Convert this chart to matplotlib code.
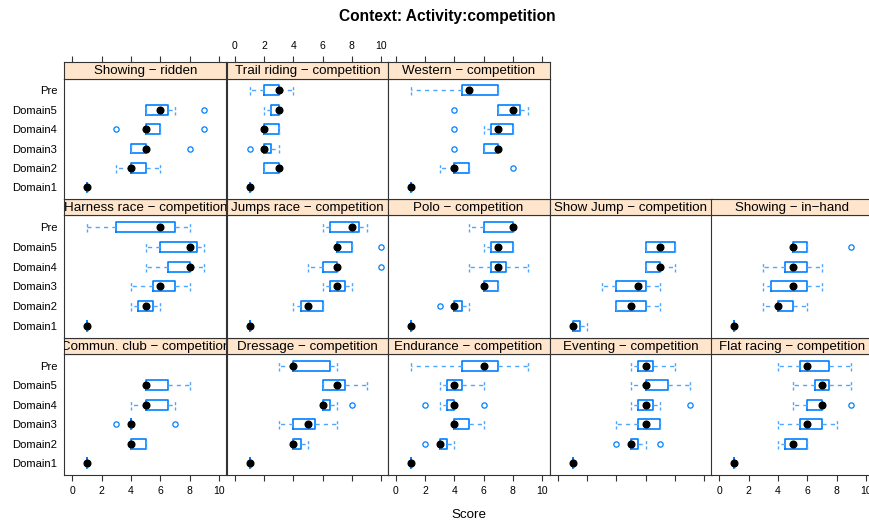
import matplotlib
matplotlib.use('Agg')
import matplotlib.pyplot as plt

plt.rcParams['font.family'] = ['Liberation Sans', 'DejaVu Sans']

# lattice packet order: bottom row first, left to right
panels = ['Commun. club \u2212 competition', 'Dressage \u2212 competition',
          'Endurance \u2212 competition', 'Eventing \u2212 competition',
          'Flat racing \u2212 competition', 'Harness race \u2212 competition',
          'Jumps race \u2212 competition', 'Polo \u2212 competition',
          'Show Jump \u2212 competition', 'Showing \u2212 in\u2212hand',
          'Showing \u2212 ridden', 'Trail riding \u2212 competition',
          'Western \u2212 competition']
levels = ['Domain1', 'Domain2', 'Domain3', 'Domain4', 'Domain5', 'Pre']

N = None
# per panel, per level (Domain1 .. Pre)
whis_lo = [
    [1, 4, 4, 4, 5, N],
    [1, 4, 3, 6, 6, 3],
    [1, 3, 4, 3, 3, 1],
    [1, 5, 4, 5, 5, 5],
    [1, 4, 4, 5, 5, 4],
    [1, 4, 4, 5, 5, 1],
    [1, 4, 6, 5, 7, 6],
    [1, 4, 6, 5, 6, 5],
    [1, 4, 3, 6, 6, N],
    [1, 3, 3, 3, 5, N],
    [1, 3, 4, 5, 5, N],
    [1, 2, 2, 2, 2, 1],
    [1, 3, 6, 6, 7, 1],
]
box_q1 = [
    [1, 4, 4, 5, 5, N],
    [1, 4, 4, 6, 6, 4],
    [1, 3, 4, 3.5, 3.5, 4.5],
    [1, 5, 5.5, 5.5, 6, 5.5],
    [1, 4.5, 5.5, 6, 6.5, 5.5],
    [1, 4.5, 5.5, 6.5, 6, 3],
    [1, 4.5, 6.5, 6, 7, 6.5],
    [1, 4, 6, 6.5, 6.5, 6],
    [1, 4, 4, 6, 6, N],
    [1, 4, 3.5, 4.5, 5, N],
    [1, 4, 4, 5, 5, N],
    [1, 2, 2, 2, 2.5, 2],
    [1, 4, 6, 6.5, 7, 4.5],
]
box_med = [
    [1, 4, 4, 5, 5, N],
    [1, 4, 5, 6, 7, 4],
    [1, 3, 4, 4, 4, 6],
    [1, 5, 6, 6, 6, 6],
    [1, 5, 6, 7, 7, 6],
    [1, 5, 6, 8, 8, 6],
    [1, 5, 7, 7, 7, 8],
    [1, 4, 6, 7, 7, 8],
    [1, 5, 5.5, 7, 7, N],
    [1, 4, 5, 5, 5, N],
    [1, 4, 5, 5, 6, N],
    [1, 3, 2, 2, 3, 3],
    [1, 4, 7, 7, 8, 5],
]
box_q3 = [
    [1, 5, 4, 6.5, 6.5, N],
    [1, 4.5, 5.5, 6.5, 7.5, 6.5],
    [1, 3.5, 5, 4, 4.5, 7],
    [1, 5.5, 7, 6.5, 7.5, 6.5],
    [1, 6, 7, 7, 7.5, 7.5],
    [1, 5.5, 7, 8, 8.5, 7],
    [1, 6, 7.5, 7, 8, 8.5],
    [1, 4.5, 7, 7.5, 8, 8],
    [1.5, 6, 6, 7, 8, N],
    [1, 5, 6, 6, 6, N],
    [1, 5, 5, 6, 6.5, N],
    [1, 3, 2.5, 3, 3, 3],
    [1, 5, 7, 8, 8.5, 7],
]
whis_hi = [
    [1, 5, 4, 7, 8, N],
    [1, 5, 7, 7, 9, 7],
    [1, 4, 6, 4, 6, 9],
    [1, 6, 7, 7, 9, 8],
    [1, 6, 8, 7, 9, 9],
    [1, 6, 8, 9, 9, 8],
    [1, 6, 8, 7, 8, 9],
    [1, 5, 7, 9, 8, 8],
    [2, 7, 7, 8, 8, N],
    [1, 6, 7, 7, 6, N],
    [1, 6, 5, 6, 7, N],
    [1, 3, 3, 3, 3, 4],
    [1, 5, 7, 8, 9, 7],
]
outliers = [
    [[], [], [3, 7], [], [], []],
    [[], [], [], [8], [], []],
    [[], [2], [], [2, 6], [], []],
    [[], [4, 7], [], [9], [], []],
    [[], [], [], [9], [], []],
    [[], [], [], [], [], []],
    [[], [], [], [10], [10], []],
    [[], [3], [], [], [], []],
    [[], [], [], [], [], []],
    [[], [], [], [], [9], []],
    [[], [], [8], [3, 9], [9], []],
    [[], [], [1], [], [], []],
    [[], [8], [4], [4], [4], []],
]
xticks = [0, 2, 4, 6, 8, 10]

W, H = 870, 522
blue = '#0080ff'
whisk = '#4da6ff'
edge = '#333333'
col_left = [64.3, 226.7, 387.7, 549.7, 711.3]
col_w = 161.8
row_top = [62.3, 199.0, 337.7]
strip_h = 16.4
row_bot = [199.0, 337.7, 475.0]


def rect(x0, y0, x1, y1):
    return [x0 / W, 1 - y1 / H, (x1 - x0) / W, (y1 - y0) / H]


fig = plt.figure(figsize=(W / 100, H / 100), dpi=100)

for k, name in enumerate(panels):
    row = 2 - k // 5
    col = k % 5
    x0 = col_left[col]
    x1 = x0 + col_w
    ax = fig.add_axes(rect(x0, row_top[row] + strip_h, x1, row_bot[row]))
    sax = fig.add_axes(rect(x0, row_top[row], x1, row_top[row] + strip_h))

    stats = []
    pos = []
    meds = []
    for j in range(len(levels)):
        if box_med[k][j] is None:
            continue
        stats.append(dict(med=box_med[k][j], q1=box_q1[k][j], q3=box_q3[k][j],
                          whislo=whis_lo[k][j], whishi=whis_hi[k][j],
                          fliers=outliers[k][j]))
        pos.append(j + 1)
        meds.append(box_med[k][j])
    ax.bxp(stats, positions=pos, widths=0.5, capwidths=0.5,
           orientation='horizontal', manage_ticks=False,
           boxprops=dict(color=blue, linewidth=1.2),
           whiskerprops=dict(color=whisk, linewidth=1.0, linestyle=(0, (3, 3))),
           capprops=dict(color=whisk, linewidth=1.0, linestyle=(0, (2.2, 1.6))),
           medianprops=dict(linewidth=0),
           flierprops=dict(marker='o', markerfacecolor='none', markeredgecolor=blue,
                           markersize=3.8, markeredgewidth=0.9))
    ax.plot(meds, pos, 'o', color='black', markersize=4.8, zorder=5)

    ax.set_xlim(-0.56, 10.5)
    ax.set_ylim(0.4, 6.6)
    ax.set_yticks(range(1, len(levels) + 1))
    if col == 0:
        ax.set_yticklabels(levels, fontsize=8.1)
    else:
        ax.set_yticklabels([])
    ax.tick_params(axis='y', length=0, pad=5)
    ax.set_xticks(xticks)
    if row == 2:
        ax.tick_params(axis='x', direction='out', length=4.3, width=0.8,
                       color=edge, pad=3.5, labelsize=7.5)
        if col % 2 == 1:
            ax.set_xticklabels([])
    else:
        ax.tick_params(axis='x', length=0, labelbottom=False)
    for sp in ax.spines.values():
        sp.set_color(edge)
        sp.set_linewidth(0.8)

    sax.set_facecolor('#ffe5cc')
    sax.set_xlim(-0.56, 10.5)
    sax.set_ylim(0, 1)
    sax.set_yticks([])
    if row == 0:
        sax.set_xticks(xticks)
        sax.xaxis.tick_top()
        sax.tick_params(axis='x', direction='out', length=4.3, width=0.8,
                        color=edge, pad=3.5, labelsize=7.5)
        if col != 1:
            sax.set_xticklabels([])
    else:
        sax.set_xticks([])
    for sp in sax.spines.values():
        sp.set_color(edge)
        sp.set_linewidth(0.8)
    sax.text(4.97, 0.45, name, ha='center', va='center', fontsize=9.6,
             clip_on=True)

fig.text(447 / W, 1 - 16 / H, 'Context: Activity:competition', ha='center',
         va='center', fontsize=11.2, fontweight='bold')
fig.text(468.5 / W, 1 - 515 / H, 'Score', ha='center', va='center', fontsize=9.6)

fig.savefig('out.png', dpi=100)
